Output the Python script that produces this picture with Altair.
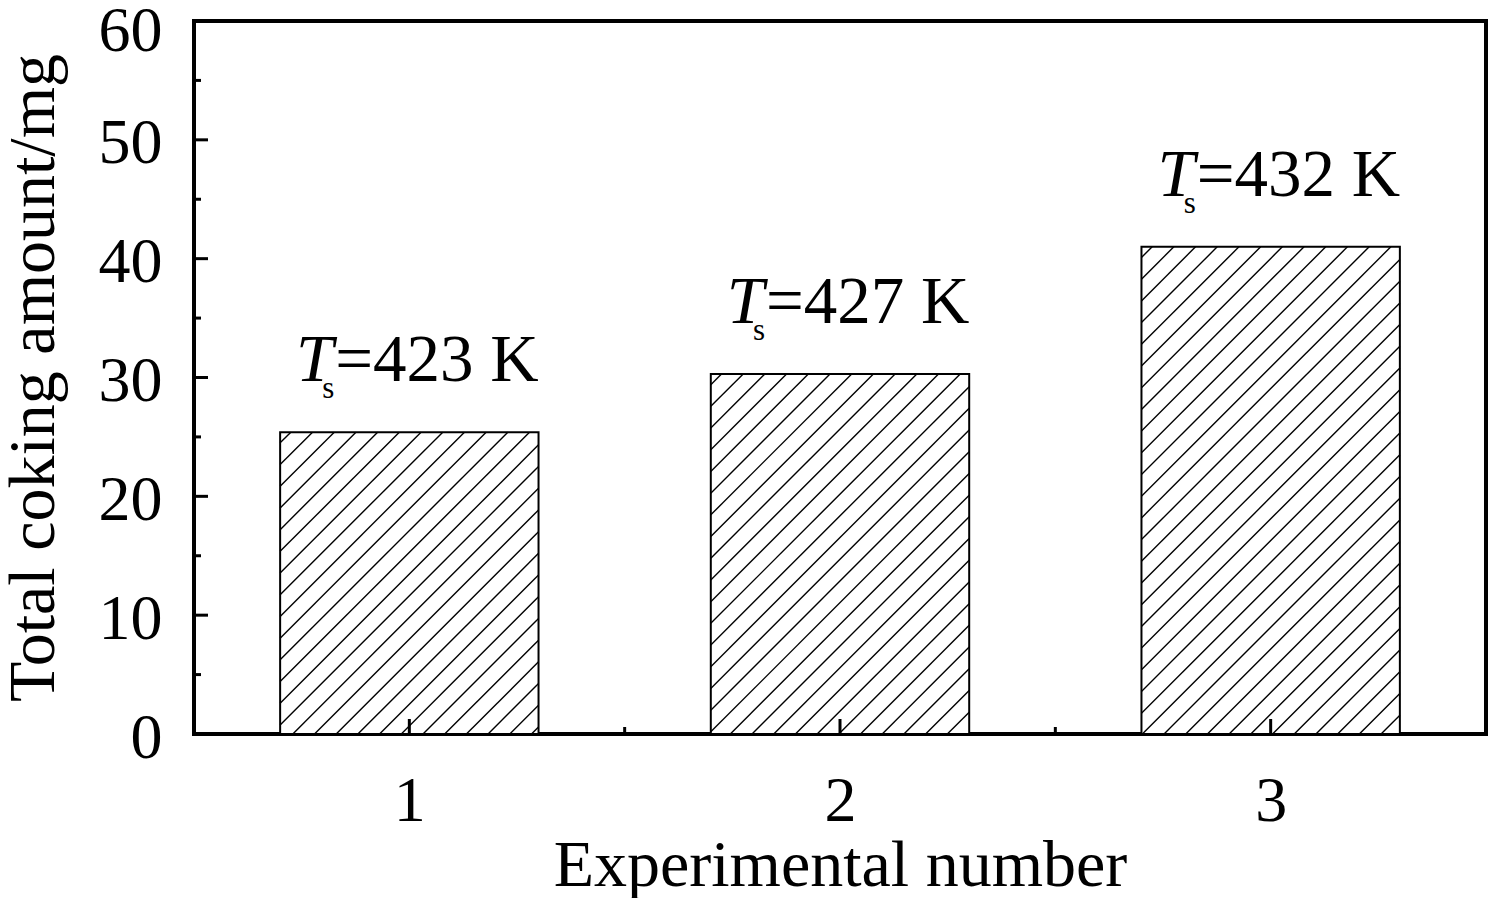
import altair as alt
import pandas as pd

# ---- data ----
exp_numbers = [1, 2, 3]
coking_mg = [25.4, 30.3, 41.0]
ts_kelvin = [423, 427, 432]
y_major = [0, 10, 20, 30, 40, 50, 60]
y_minor = [5, 15, 25, 35, 45, 55]
x_major = [1, 2, 3]
x_minor = [1.5, 2.5]

# ---- layout / style ----
W, H = 1292, 713
X_DOMAIN = [0.5, 3.5]
Y_DOMAIN = [0, 60]
BAR_HALF = 0.3
FONT = "Liberation Serif"
HATCH_STEP = 21.7  # px between hatch lines
HATCH_PHASE = 10.7

xscale = alt.Scale(domain=X_DOMAIN, nice=False, zero=False)
yscale = alt.Scale(domain=Y_DOMAIN, nice=False, zero=False)

bars = pd.DataFrame({
    "num": exp_numbers,
    "coke": coking_mg,
    "label": [f"={t} K" for t in ts_kelvin],
})

# hatch segments clipped to each bar (derived from bar values)
px_x = W / (X_DOMAIN[1] - X_DOMAIN[0])
px_y = H / (Y_DOMAIN[1] - Y_DOMAIN[0])
rows = []
for n, v in zip(exp_numbers, coking_mg):
    bw = 2 * BAR_HALF * px_x
    bh = v * px_y
    left = n - BAR_HALF
    for k in range(-200, 200):
        d = HATCH_PHASE - bh + k * HATCH_STEP
        u0 = max(0.0, d)
        u1 = min(bw, bh + d)
        if u1 - u0 <= 0.5:
            continue
        rows.append({
            "x": left + u0 / px_x, "y": (u0 - d) / px_y,
            "x2": left + u1 / px_x, "y2": (u1 - d) / px_y,
        })
hatch = pd.DataFrame(rows)

base = alt.Chart(bars)

bar_layer = base.transform_calculate(
    x0=f"datum.num - {BAR_HALF}", x1=f"datum.num + {BAR_HALF}"
).mark_bar(fill="white", stroke="black", strokeWidth=2).encode(
    x=alt.X("x0:Q", scale=xscale, axis=alt.Axis(
        values=x_major, format="d", ticks=False, tickSize=0, domain=False, grid=False,
        labelFont=FONT, labelFontSize=64, labelColor="black",
        labelBaseline="alphabetic", labelPadding=86, labelOverlap=False, labelFlush=False,
        title="Experimental number", titleFont=FONT, titleFontSize=66,
        titleFontWeight="normal", titleColor="black",
        titleBaseline="alphabetic", titleAlign="center", titleX=W / 2, titleY=151,
    )),
    x2="x1:Q",
    y=alt.Y("coke:Q", scale=yscale, axis=alt.Axis(
        values=y_major, ticks=False, tickSize=0, domain=False, grid=False,
        labelFont=FONT, labelFontSize=64, labelColor="black",
        labelPadding=32, labelOverlap=False,
        labelOffset={"condition": {"test": "datum.value === 60", "value": 10}, "value": 4},
        title="Total coking amount/mg", titleFont=FONT, titleFontSize=66,
        titleFontWeight="normal", titleColor="black",
        titleAngle=270, titleBaseline="alphabetic", titleAlign="center",
        titleX=-141, titleY=H / 2,
    )),
    y2=alt.datum(0),
)

hatch_layer = alt.Chart(hatch).mark_rule(color="black", strokeWidth=1.4).encode(
    x=alt.X("x:Q", scale=xscale),
    y=alt.Y("y:Q", scale=yscale),
    x2="x2:Q", y2="y2:Q",
)


def ytick(vals, length):
    return alt.Chart(pd.DataFrame({"v": vals})).mark_rule(color="black", strokeWidth=3).encode(
        y=alt.Y("v:Q", scale=yscale),
        x=alt.value(0),
        x2=alt.value(length),
    )


def xtick(vals, length):
    return alt.Chart(pd.DataFrame({"v": vals})).mark_rule(color="black", strokeWidth=3).encode(
        x=alt.X("v:Q", scale=xscale),
        y=alt.value(H),
        y2=alt.value(H - length),
    )


label_layer = base.mark_text(
    font=FONT, fontSize=67, align="left", baseline="alphabetic", dx=-74, dy=-51, color="black"
).encode(
    x=alt.X("num:Q", scale=xscale),
    y=alt.Y("coke:Q", scale=yscale),
    text="label:N",
)

t_layer = base.mark_text(
    font=FONT, fontSize=67, fontStyle="italic", align="right", baseline="alphabetic",
    dx=-76, dy=-51, color="black"
).encode(
    x=alt.X("num:Q", scale=xscale),
    y=alt.Y("coke:Q", scale=yscale),
    text=alt.value("T"),
)

s_layer = base.mark_text(
    font=FONT, fontSize=31, align="left", baseline="alphabetic",
    dx=-87, dy=-34, color="black"
).encode(
    x=alt.X("num:Q", scale=xscale),
    y=alt.Y("coke:Q", scale=yscale),
    text=alt.value("s"),
)

chart = alt.layer(
    bar_layer, hatch_layer,
    ytick(y_major, 14), ytick(y_minor, 7),
    xtick(x_major, 15), xtick(x_minor, 7),
    label_layer, t_layer, s_layer,
).properties(
    width=W, height=H,
    autosize=alt.AutoSizeParams(type="none"),
    padding={"left": 186, "top": 13, "right": 2, "bottom": 164},
    background="white",
).configure_view(stroke="black", strokeWidth=4)

chart.save("out.html", embed_options={"renderer": "svg", "actions": False})
